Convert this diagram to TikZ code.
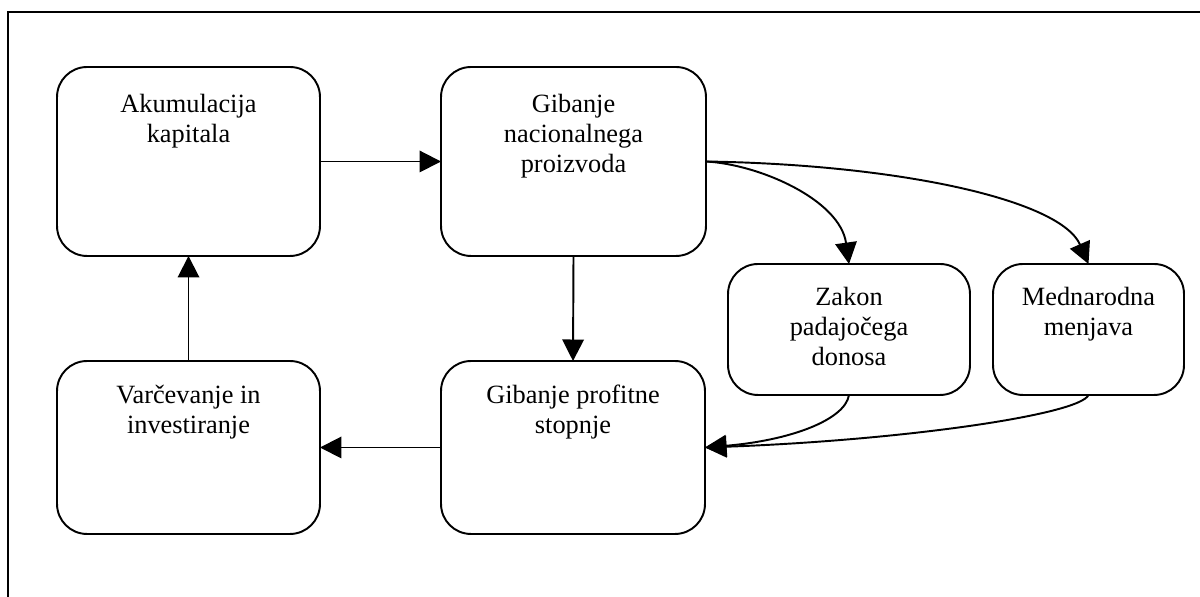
\documentclass[tikz,border=0pt]{standalone}
\usepackage{fontspec}
\setmainfont{Liberation Serif}
\usetikzlibrary{arrows.meta,calc}
\begin{document}
\begin{tikzpicture}[x=0.02cm,y=0.02cm,
  box/.style={draw, line width=1.1pt, rounded corners=0.6cm, inner sep=0pt, outer sep=0pt},
  lbl/.style={anchor=north, inner sep=0pt, align=center, font=\fontsize{15}{17}\selectfont},
  arr/.style={line width=1.1pt, -{Triangle[length=0.43cm,width=0.43cm]}}]
\useasboundingbox (0,0) rectangle (1200,597);
\clip (0,0) rectangle (1200,597);
\draw[line width=1.2pt] (8,-20) rectangle (1230,585);
% boxes
\node[box, minimum width=5.26cm, minimum height=3.78cm] (A) at (188.5,435.5) {};
\node[box, minimum width=5.30cm, minimum height=3.78cm] (G) at (573.5,435.5) {};
\node[box, minimum width=5.26cm, minimum height=3.46cm] (V) at (188.5,149.5) {};
\node[box, minimum width=5.28cm, minimum height=3.46cm] (P) at (573,149.5) {};
\node[box, minimum width=4.84cm, minimum height=2.62cm] (Z) at (849,267.5) {};
\node[box, minimum width=3.82cm, minimum height=2.62cm] (M) at (1088.5,267.5) {};
% texts
\node[lbl, below=0.54cm] (tA) at (A.north) {Akumulacija\\kapitala};
\node[lbl, below=0.54cm] (tG) at (G.north) {Gibanje\\nacionalnega\\proizvoda};
\node[lbl, below=0.48cm] (tV) at (V.north) {Varčevanje in\\investiranje};
\node[lbl, below=0.48cm] (tP) at (P.north) {Gibanje profitne\\stopnje};
\node[lbl, below=0.46cm] (tZ) at (Z.north) {Zakon\\padajočega\\donosa};
\node[lbl, below=0.46cm] (tM) at (M.north) {Mednarodna\\menjava};
% connectors
\draw[arr] (A.east) -- (G.west);
\draw[arr] (G.south) -- (P.north);
\draw[arr] (P.west) -- (V.east);
\draw[arr] (V.north) -- (A.south);
\draw[arr] (G.east) .. controls ($(G.east)+(54,-3)$) and ($(Z.north)+(-9,64)$) .. (Z.north);
\draw[arr] (G.east) .. controls ($(G.east)+(194,-3)$) and ($(M.north)+(-28,64)$) .. (M.north);
\draw[arr] (Z.south) .. controls ($(Z.south)+(-4,-25)$) and ($(P.east)+(85,7)$) .. (P.east);
\draw[arr] (M.south) .. controls ($(M.south)+(-9,-20)$) and ($(P.east)+(195,7)$) .. (P.east);
\end{tikzpicture}
\end{document}
